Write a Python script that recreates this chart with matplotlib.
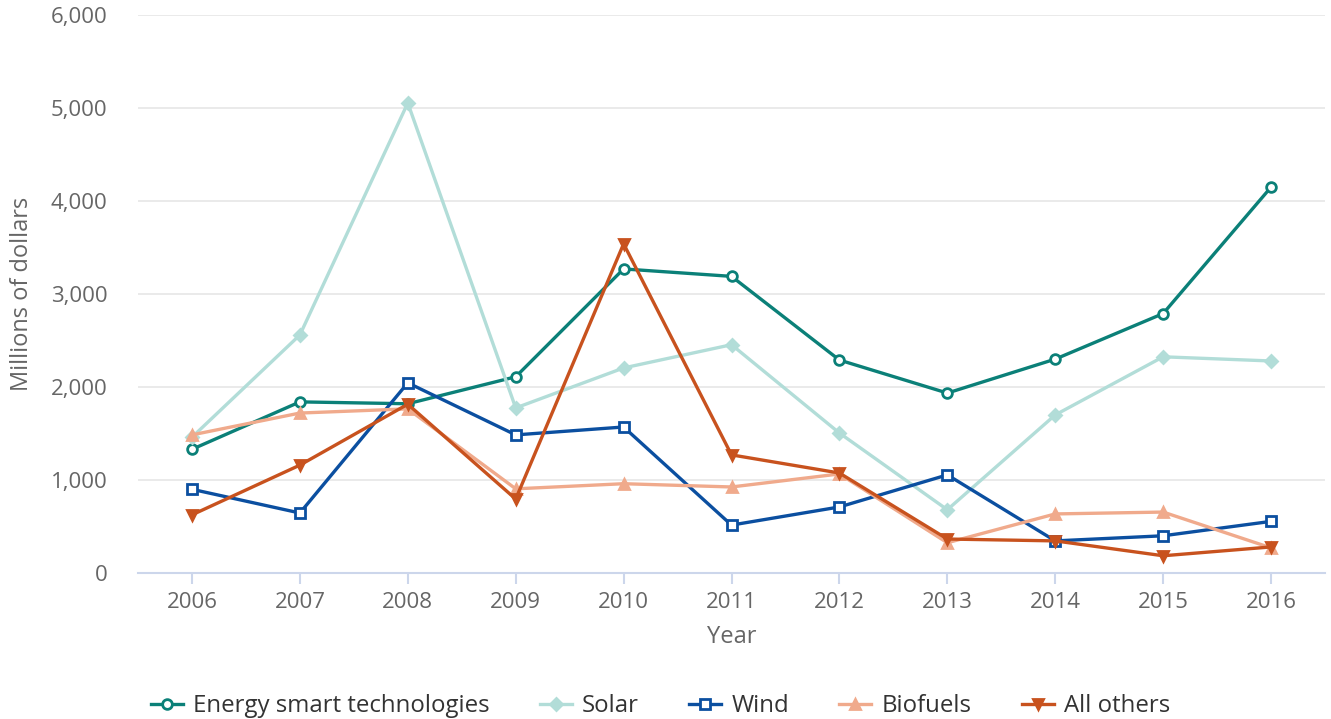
import matplotlib.pyplot as plt
from matplotlib.ticker import FuncFormatter

plt.rcParams['font.family'] = ['Open Sans', 'DejaVu Sans']

years = [2006, 2007, 2008, 2009, 2010, 2011, 2012, 2013, 2014, 2015, 2016]

energy_smart = [1330, 1840, 1820, 2110, 3270, 3190, 2290, 1935, 2300, 2790, 4150]
solar = [1460, 2560, 5055, 1775, 2205, 2455, 1505, 680, 1700, 2325, 2280]
wind = [900, 645, 2045, 1485, 1570, 515, 710, 1055, 345, 400, 555]
biofuels = [1485, 1720, 1765, 905, 960, 925, 1065, 325, 635, 655, 270]
all_others = [625, 1160, 1815, 795, 3540, 1270, 1075, 365, 345, 185, 280]

series = [
    ('Energy smart technologies', energy_smart, '#0b8078', 'o', 'white'),
    ('Solar', solar, '#b2ddd8', 'D', None),
    ('Wind', wind, '#0b4fa0', 's', 'white'),
    ('Biofuels', biofuels, '#f0aa8c', '^', None),
    ('All others', all_others, '#c8521e', 'v', None),
]

fig = plt.figure(figsize=(13.31, 7.19), dpi=100)
ax = fig.add_axes([0.1037, 0.2031, 0.8918, 0.7759])

for name, vals, color, marker, face in series:
    ms = 6 if marker == 'D' else 7
    ax.plot(years, vals, color=color, lw=2.4, marker=marker, ms=ms,
            markerfacecolor=face if face else color,
            markeredgecolor=color, markeredgewidth=2, label=name)

ax.set_xlim(2005.5, 2016.5)
ax.set_ylim(0, 6000)
ax.set_xticks(years)
ax.set_yticks(range(0, 6001, 1000))
ax.yaxis.set_major_formatter(FuncFormatter(lambda v, p: f'{int(v):,}'))

ax.grid(axis='y', color='#e6e6e6', lw=1.2)
ax.set_axisbelow(True)
for s in ['top', 'right', 'left']:
    ax.spines[s].set_visible(False)
ax.spines['bottom'].set_color('#ccd6eb')
ax.spines['bottom'].set_linewidth(1.5)

ax.tick_params(axis='x', colors='#666666', labelsize=16, length=8,
               width=1.5, color='#ccd6eb', pad=6)
ax.tick_params(axis='y', colors='#666666', labelsize=16, length=0, pad=22)

ax.set_xlabel('Year', fontsize=17, color='#666666', labelpad=8)
ax.set_ylabel('Millions of dollars', fontsize=17, color='#666666', labelpad=12)

fig.legend(loc='center', bbox_to_anchor=(0.4962, 0.018), ncol=5, frameon=False,
           fontsize=17.3, handlelength=1.33, handletextpad=0.42,
           columnspacing=2.1, labelcolor='#333333')

fig.savefig('out.png', dpi=100)
